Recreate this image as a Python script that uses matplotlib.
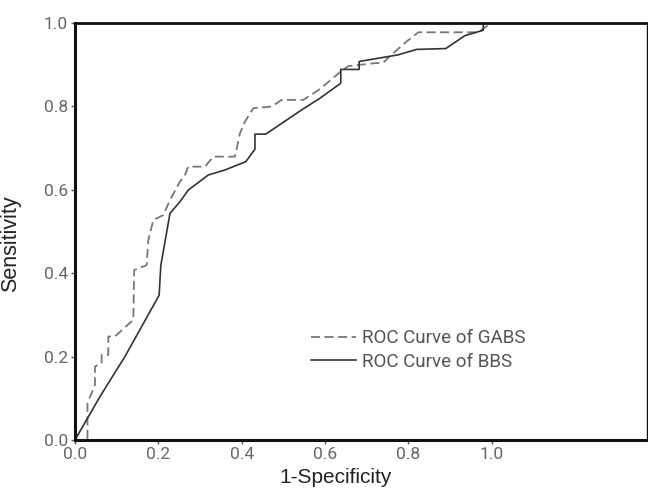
import matplotlib as mpl
mpl.use('Agg')
import matplotlib.pyplot as plt

# ROC points
gabs_fpr = [0.0, 0.03, 0.03, 0.048, 0.048, 0.064, 0.064, 0.08, 0.08, 0.096, 0.14, 0.142,
            0.172, 0.176, 0.188, 0.212, 0.228, 0.252, 0.264, 0.272, 0.312, 0.332, 0.384,
            0.396, 0.408, 0.428, 0.472, 0.496, 0.548, 0.588, 0.638, 0.656, 0.72, 0.74,
            0.756, 0.796, 0.824, 0.968, 1.0]
gabs_tpr = [0.0, 0.0, 0.088, 0.132, 0.176, 0.184, 0.204, 0.204, 0.248, 0.248, 0.288, 0.407,
            0.419, 0.479, 0.527, 0.539, 0.575, 0.619, 0.635, 0.655, 0.655, 0.679, 0.679,
            0.735, 0.763, 0.795, 0.799, 0.815, 0.815, 0.841, 0.883, 0.896, 0.903, 0.904,
            0.92, 0.955, 0.977, 0.977, 1.0]

bbs_fpr = [0.0, 0.06, 0.12, 0.202, 0.206, 0.228, 0.252, 0.272, 0.32, 0.36, 0.41, 0.432,
           0.432, 0.458, 0.544, 0.588, 0.638, 0.638, 0.682, 0.682, 0.776, 0.82, 0.89,
           0.936, 0.98, 0.98, 1.0]
bbs_tpr = [0.0, 0.104, 0.2, 0.347, 0.418, 0.543, 0.571, 0.599, 0.635, 0.647, 0.667, 0.697,
           0.733, 0.733, 0.791, 0.819, 0.855, 0.888, 0.888, 0.907, 0.923, 0.936, 0.938,
           0.969, 0.982, 1.0, 1.0]

ticks = [0.0, 0.2, 0.4, 0.6, 0.8, 1.0]

fig = plt.figure(figsize=(6.48, 4.88), dpi=100)
ax = fig.add_axes([0.1157, 0.0984, 0.8828, 0.8551])

ax.plot(gabs_fpr, gabs_tpr, color='#777777', lw=1.3, dashes=[5, 2.5], label='ROC Curve of GABS')
ax.plot(bbs_fpr, bbs_tpr, color='#333333', lw=1.2, label='ROC Curve of BBS')

ax.set_xlim(0, 1.373)
ax.set_ylim(0, 1.0)
ax.set_xticks(ticks)
ax.set_yticks(ticks)
ax.set_xticklabels(['%.1f' % t for t in ticks])
ax.set_yticklabels(['%.1f' % t for t in ticks])
ax.tick_params(axis='both', direction='out', length=3, width=1, color='#555555',
               labelsize=12.5, labelcolor='#666666', pad=2)
for lab in ax.get_xticklabels() + ax.get_yticklabels():
    lab.set_fontfamily('Roboto')

for s, w in [('left', 2.2), ('bottom', 2.2), ('top', 2.0), ('right', 1.0)]:
    ax.spines[s].set_linewidth(w)
    ax.spines[s].set_color('#111111')

ax.set_xlabel('1-Specificity', fontsize=15, color='#222222', family='Liberation Sans')
ax.set_ylabel('Sensitivity', fontsize=15.5, color='#222222', family='Liberation Sans')
ax.xaxis.set_label_coords(0.455, -0.066)
ax.yaxis.set_label_coords(-0.095, 0.47)

leg = ax.legend(loc='upper left', bbox_to_anchor=(0.4, 0.283), frameon=False,
                prop={'family': 'Roboto', 'size': 13.5}, handlelength=2.4,
                handletextpad=0.3, labelspacing=0.3, borderaxespad=0)
for t in leg.get_texts():
    t.set_color('#555555')

fig.savefig('out.png', dpi=100)
